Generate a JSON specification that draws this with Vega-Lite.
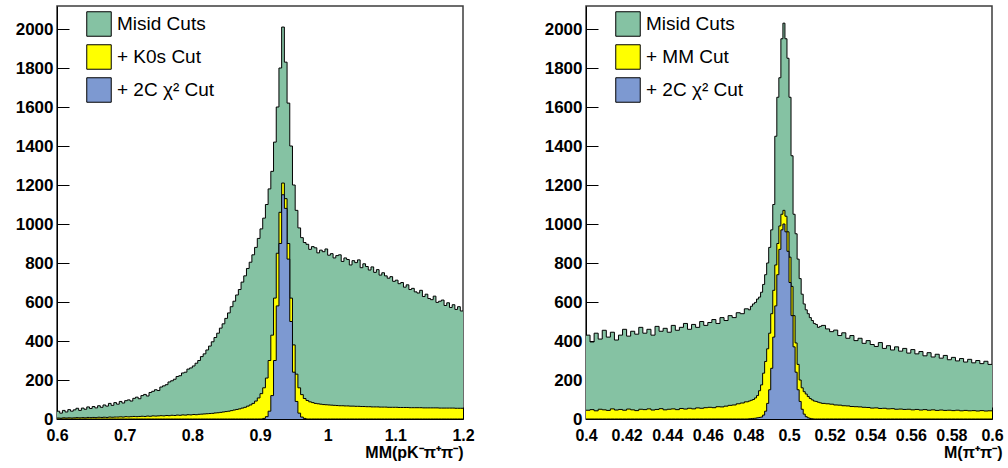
{
"$schema": "https://vega.github.io/schema/vega-lite/v6.json",
"padding": {"left": 14, "top": 5, "right": 5, "bottom": 5},
"background": "white",
"bounds": "flush",
"spacing": 123,
"resolve": {"scale": {"color": "independent", "x": "independent", "y": "independent"}, "legend": {"color": "independent"}},
"config": {
  "view": {"stroke": "#3c3c3c", "strokeWidth": 1.5},
  "font": "Liberation Sans",
  "axis": {"domainColor": "black", "domainWidth": 1, "tickColor": "black", "tickWidth": 1, "labelFont": "Liberation Sans", "labelFontWeight": "bold", "labelFontSize": 17, "labelColor": "black", "titleFont": "Liberation Sans", "titleFontWeight": "bold", "titleFontSize": 16, "titleColor": "black", "grid": false, "zindex": 1, "labelOverlap": false, "labelFlush": false, "labelBound": false},
  "axisX": {"labelFontSize": 16},
  "legend": {"symbolType": "square", "symbolSize": 600, "symbolStrokeColor": "black", "symbolStrokeWidth": 1, "symbolOpacity": 1, "labelFont": "Liberation Sans", "labelFontSize": 19, "labelColor": "black", "labelOffset": 5, "rowPadding": 3, "padding": 0, "orient": "none", "legendX": 29, "legendY": 5}
},
"datasets": {
"L": [
{"x":0.600,"g":40,"k":5,"c":0},{"x":0.604,"g":30,"k":4,"c":0},{"x":0.608,"g":44,"k":6,"c":0},{"x":0.612,"g":36,"k":5,"c":0},{"x":0.616,"g":48,"k":6,"c":0},{"x":0.620,"g":40,"k":5,"c":0},{"x":0.624,"g":47,"k":6,"c":0},{"x":0.628,"g":55,"k":7,"c":0},{"x":0.632,"g":44,"k":6,"c":0},{"x":0.636,"g":56,"k":7,"c":0},
{"x":0.640,"g":50,"k":6,"c":0},{"x":0.644,"g":62,"k":8,"c":0},{"x":0.648,"g":54,"k":7,"c":0},{"x":0.652,"g":64,"k":8,"c":0},{"x":0.656,"g":57,"k":7,"c":0},{"x":0.660,"g":68,"k":9,"c":0},{"x":0.664,"g":60,"k":8,"c":0},{"x":0.668,"g":72,"k":9,"c":0},{"x":0.672,"g":66,"k":8,"c":0},{"x":0.676,"g":80,"k":10,"c":0},
{"x":0.680,"g":70,"k":9,"c":0},{"x":0.684,"g":84,"k":10,"c":0},{"x":0.688,"g":76,"k":10,"c":0},{"x":0.692,"g":90,"k":11,"c":0},{"x":0.696,"g":82,"k":10,"c":0},{"x":0.700,"g":94,"k":12,"c":0},{"x":0.704,"g":98,"k":11,"c":0},{"x":0.708,"g":92,"k":12,"c":0},{"x":0.712,"g":106,"k":13,"c":0},{"x":0.716,"g":112,"k":12,"c":0},
{"x":0.720,"g":104,"k":13,"c":0},{"x":0.724,"g":120,"k":14,"c":0},{"x":0.728,"g":126,"k":13,"c":0},{"x":0.732,"g":118,"k":15,"c":0},{"x":0.736,"g":136,"k":14,"c":0},{"x":0.740,"g":142,"k":16,"c":0},{"x":0.744,"g":150,"k":15,"c":0},{"x":0.748,"g":146,"k":16,"c":0},{"x":0.752,"g":164,"k":17,"c":0},{"x":0.756,"g":170,"k":16,"c":0},
{"x":0.760,"g":176,"k":18,"c":0},{"x":0.764,"g":190,"k":17,"c":0},{"x":0.768,"g":196,"k":19,"c":0},{"x":0.772,"g":204,"k":18,"c":0},{"x":0.776,"g":218,"k":20,"c":0},{"x":0.780,"g":222,"k":19,"c":0},{"x":0.784,"g":236,"k":21,"c":0},{"x":0.788,"g":240,"k":20,"c":0},{"x":0.792,"g":256,"k":22,"c":0},{"x":0.796,"g":262,"k":21,"c":0},
{"x":0.800,"g":272,"k":23,"c":0},{"x":0.804,"g":286,"k":22,"c":0},{"x":0.808,"g":300,"k":24,"c":0},{"x":0.812,"g":320,"k":25,"c":0},{"x":0.816,"g":334,"k":26,"c":0},{"x":0.820,"g":354,"k":27,"c":0},{"x":0.824,"g":374,"k":28,"c":0},{"x":0.828,"g":396,"k":29,"c":0},{"x":0.832,"g":418,"k":31,"c":0},{"x":0.836,"g":440,"k":32,"c":0},
{"x":0.840,"g":466,"k":34,"c":0},{"x":0.844,"g":488,"k":36,"c":0},{"x":0.848,"g":516,"k":38,"c":0},{"x":0.852,"g":544,"k":40,"c":0},{"x":0.856,"g":576,"k":43,"c":0},{"x":0.860,"g":604,"k":46,"c":0},{"x":0.864,"g":636,"k":49,"c":0},{"x":0.868,"g":664,"k":52,"c":0},{"x":0.872,"g":702,"k":56,"c":0},{"x":0.876,"g":734,"k":60,"c":0},
{"x":0.880,"g":772,"k":66,"c":0},{"x":0.884,"g":804,"k":72,"c":0},{"x":0.888,"g":842,"k":80,"c":0},{"x":0.892,"g":880,"k":92,"c":0},{"x":0.896,"g":926,"k":108,"c":0},{"x":0.900,"g":975,"k":130,"c":0},{"x":0.904,"g":1030,"k":160,"c":3},{"x":0.908,"g":1100,"k":210,"c":12},{"x":0.912,"g":1180,"k":300,"c":40},{"x":0.916,"g":1270,"k":430,"c":120},
{"x":0.920,"g":1420,"k":620,"c":300},{"x":0.924,"g":1600,"k":850,"c":580},{"x":0.928,"g":1800,"k":1060,"c":900},{"x":0.932,"g":2010,"k":1210,"c":1150},{"x":0.936,"g":1830,"k":1130,"c":1080},{"x":0.940,"g":1620,"k":900,"c":820},{"x":0.944,"g":1400,"k":620,"c":500},{"x":0.948,"g":1200,"k":380,"c":240},{"x":0.952,"g":1070,"k":230,"c":90},{"x":0.956,"g":980,"k":160,"c":30},
{"x":0.960,"g":930,"k":125,"c":10},{"x":0.964,"g":905,"k":105,"c":3},{"x":0.968,"g":896,"k":95,"c":0},{"x":0.972,"g":870,"k":88,"c":0},{"x":0.976,"g":884,"k":84,"c":0},{"x":0.980,"g":878,"k":80,"c":0},{"x":0.984,"g":852,"k":78,"c":0},{"x":0.988,"g":866,"k":76,"c":0},{"x":0.992,"g":858,"k":74,"c":0},{"x":0.996,"g":872,"k":73,"c":0},
{"x":1.000,"g":840,"k":72,"c":0},{"x":1.004,"g":848,"k":71,"c":0},{"x":1.008,"g":826,"k":70,"c":0},{"x":1.012,"g":838,"k":69,"c":0},{"x":1.016,"g":842,"k":68,"c":0},{"x":1.020,"g":808,"k":68,"c":0},{"x":1.024,"g":826,"k":67,"c":0},{"x":1.028,"g":818,"k":67,"c":0},{"x":1.032,"g":790,"k":66,"c":0},{"x":1.036,"g":812,"k":66,"c":0},
{"x":1.040,"g":802,"k":65,"c":0},{"x":1.044,"g":816,"k":65,"c":0},{"x":1.048,"g":776,"k":64,"c":0},{"x":1.052,"g":796,"k":64,"c":0},{"x":1.056,"g":782,"k":63,"c":0},{"x":1.060,"g":764,"k":63,"c":0},{"x":1.064,"g":780,"k":62,"c":0},{"x":1.068,"g":752,"k":62,"c":0},{"x":1.072,"g":766,"k":62,"c":0},{"x":1.076,"g":738,"k":61,"c":0},
{"x":1.080,"g":750,"k":61,"c":0},{"x":1.084,"g":734,"k":61,"c":0},{"x":1.088,"g":722,"k":60,"c":0},{"x":1.092,"g":730,"k":60,"c":0},{"x":1.096,"g":706,"k":60,"c":0},{"x":1.100,"g":712,"k":60,"c":0},{"x":1.104,"g":694,"k":59,"c":0},{"x":1.108,"g":700,"k":59,"c":0},{"x":1.112,"g":676,"k":59,"c":0},{"x":1.116,"g":688,"k":59,"c":0},
{"x":1.120,"g":664,"k":58,"c":0},{"x":1.124,"g":670,"k":58,"c":0},{"x":1.128,"g":652,"k":58,"c":0},{"x":1.132,"g":646,"k":58,"c":0},{"x":1.136,"g":660,"k":58,"c":0},{"x":1.140,"g":628,"k":57,"c":0},{"x":1.144,"g":640,"k":57,"c":0},{"x":1.148,"g":618,"k":57,"c":0},{"x":1.152,"g":612,"k":57,"c":0},{"x":1.156,"g":630,"k":57,"c":0},
{"x":1.160,"g":598,"k":57,"c":0},{"x":1.164,"g":604,"k":56,"c":0},{"x":1.168,"g":610,"k":56,"c":0},{"x":1.172,"g":582,"k":56,"c":0},{"x":1.176,"g":596,"k":56,"c":0},{"x":1.180,"g":572,"k":56,"c":0},{"x":1.184,"g":586,"k":56,"c":0},{"x":1.188,"g":562,"k":55,"c":0},{"x":1.192,"g":576,"k":55,"c":0},{"x":1.196,"g":554,"k":55,"c":0},
{"x":1.200,"g":554,"k":55,"c":0}
],
"R": [
{"x":0.400,"g":430,"k":45,"c":0},{"x":0.402,"g":395,"k":48,"c":0},{"x":0.404,"g":440,"k":42,"c":0},{"x":0.406,"g":410,"k":50,"c":0},{"x":0.408,"g":455,"k":47,"c":0},{"x":0.410,"g":420,"k":44,"c":0},{"x":0.412,"g":445,"k":52,"c":0},{"x":0.414,"g":405,"k":46,"c":0},{"x":0.416,"g":430,"k":49,"c":0},{"x":0.418,"g":460,"k":45,"c":0},
{"x":0.420,"g":425,"k":51,"c":0},{"x":0.422,"g":450,"k":47,"c":0},{"x":0.424,"g":435,"k":43,"c":0},{"x":0.426,"g":470,"k":50,"c":0},{"x":0.428,"g":440,"k":48,"c":0},{"x":0.430,"g":460,"k":52,"c":0},{"x":0.432,"g":430,"k":46,"c":0},{"x":0.434,"g":475,"k":49,"c":0},{"x":0.436,"g":450,"k":53,"c":0},{"x":0.438,"g":465,"k":47,"c":0},
{"x":0.440,"g":445,"k":50,"c":0},{"x":0.442,"g":480,"k":52,"c":0},{"x":0.444,"g":455,"k":48,"c":0},{"x":0.446,"g":470,"k":54,"c":0},{"x":0.448,"g":490,"k":51,"c":0},{"x":0.450,"g":460,"k":55,"c":0},{"x":0.452,"g":485,"k":52,"c":0},{"x":0.454,"g":470,"k":57,"c":0},{"x":0.456,"g":500,"k":55,"c":0},{"x":0.458,"g":480,"k":58,"c":0},
{"x":0.460,"g":495,"k":60,"c":0},{"x":0.462,"g":510,"k":58,"c":0},{"x":0.464,"g":490,"k":63,"c":0},{"x":0.466,"g":520,"k":62,"c":0},{"x":0.468,"g":505,"k":66,"c":0},{"x":0.470,"g":530,"k":70,"c":0},{"x":0.472,"g":520,"k":72,"c":0},{"x":0.474,"g":545,"k":78,"c":0},{"x":0.476,"g":540,"k":82,"c":0},{"x":0.478,"g":565,"k":88,"c":0},
{"x":0.480,"g":560,"k":92,"c":1},{"x":0.481,"g":578,"k":96,"c":2},{"x":0.482,"g":590,"k":100,"c":3},{"x":0.483,"g":598,"k":108,"c":4},{"x":0.484,"g":615,"k":120,"c":6},{"x":0.485,"g":625,"k":145,"c":8},{"x":0.486,"g":650,"k":175,"c":10},{"x":0.487,"g":690,"k":235,"c":20},{"x":0.488,"g":740,"k":295,"c":40},{"x":0.489,"g":800,"k":360,"c":80},
{"x":0.490,"g":880,"k":440,"c":150},{"x":0.491,"g":970,"k":540,"c":260},{"x":0.492,"g":1100,"k":660,"c":420},{"x":0.493,"g":1450,"k":790,"c":580},{"x":0.494,"g":1650,"k":900,"c":740},{"x":0.495,"g":1750,"k":990,"c":870},{"x":0.496,"g":1950,"k":1050,"c":970},{"x":0.497,"g":2030,"k":1070,"c":1000},{"x":0.498,"g":1950,"k":1040,"c":960},{"x":0.499,"g":1850,"k":960,"c":860},
{"x":0.500,"g":1650,"k":830,"c":700},{"x":0.501,"g":1350,"k":680,"c":530},{"x":0.502,"g":1050,"k":530,"c":370},{"x":0.503,"g":950,"k":390,"c":240},{"x":0.504,"g":820,"k":280,"c":150},{"x":0.505,"g":720,"k":200,"c":90},{"x":0.506,"g":640,"k":160,"c":50},{"x":0.507,"g":590,"k":140,"c":25},{"x":0.508,"g":560,"k":128,"c":12},{"x":0.509,"g":540,"k":115,"c":6},
{"x":0.510,"g":520,"k":105,"c":3},{"x":0.511,"g":505,"k":98,"c":1},{"x":0.512,"g":490,"k":92,"c":0},{"x":0.513,"g":485,"k":90,"c":0},{"x":0.514,"g":470,"k":86,"c":0},{"x":0.515,"g":475,"k":83,"c":0},
{"x":0.516,"g":480,"k":80,"c":0},{"x":0.518,"g":462,"k":78,"c":0},{"x":0.520,"g":448,"k":76,"c":0},{"x":0.522,"g":456,"k":72,"c":0},{"x":0.524,"g":428,"k":71,"c":0},{"x":0.526,"g":442,"k":68,"c":0},{"x":0.528,"g":414,"k":67,"c":0},{"x":0.530,"g":428,"k":64,"c":0},{"x":0.532,"g":402,"k":63,"c":0},{"x":0.534,"g":414,"k":62,"c":0},
{"x":0.536,"g":388,"k":60,"c":0},{"x":0.538,"g":402,"k":59,"c":0},{"x":0.540,"g":382,"k":56,"c":0},{"x":0.542,"g":372,"k":57,"c":0},{"x":0.544,"g":392,"k":54,"c":0},{"x":0.546,"g":362,"k":55,"c":0},{"x":0.548,"g":376,"k":52,"c":0},{"x":0.550,"g":354,"k":53,"c":0},{"x":0.552,"g":370,"k":50,"c":0},{"x":0.554,"g":348,"k":51,"c":0},
{"x":0.556,"g":362,"k":49,"c":0},{"x":0.558,"g":338,"k":50,"c":0},{"x":0.560,"g":356,"k":47,"c":0},{"x":0.562,"g":334,"k":49,"c":0},{"x":0.564,"g":346,"k":46,"c":0},{"x":0.566,"g":324,"k":48,"c":0},{"x":0.568,"g":340,"k":45,"c":0},{"x":0.570,"g":318,"k":47,"c":0},{"x":0.572,"g":332,"k":44,"c":0},{"x":0.574,"g":312,"k":46,"c":0},
{"x":0.576,"g":326,"k":44,"c":0},{"x":0.578,"g":304,"k":45,"c":0},{"x":0.580,"g":316,"k":43,"c":0},{"x":0.582,"g":298,"k":45,"c":0},{"x":0.584,"g":310,"k":42,"c":0},{"x":0.586,"g":292,"k":44,"c":0},{"x":0.588,"g":306,"k":42,"c":0},{"x":0.590,"g":288,"k":43,"c":0},{"x":0.592,"g":300,"k":41,"c":0},{"x":0.594,"g":284,"k":43,"c":0},
{"x":0.596,"g":296,"k":41,"c":0},{"x":0.598,"g":280,"k":42,"c":0},{"x":0.600,"g":280,"k":42,"c":0}
]
},
"hconcat": [
{
  "width": 406, "height": 413,
  "data": {"name": "L"},
  "layer": [
    {"mark": {"type": "area", "interpolate": "step-after"},
     "encoding": {
       "x": {"field": "x", "type": "quantitative", "scale": {"domain": [0.6, 1.2], "nice": false, "zero": false},
             "axis": {"values": [0.6,0.7,0.8,0.9,1.0,1.1,1.2],
                      "format": ".1~f", "labelOverlap": false, "tickSize": -12,
                      "labelPadding": 20, "title": "MM(pK\u207b\u03c0\u207a\u03c0\u207b)", "titleAnchor": "end", "titlePadding": 1}},
       "y": {"field": "g", "type": "quantitative", "scale": {"domain": [0, 2118], "nice": false},
             "axis": {"values": [0,50,100,150,200,250,300,350,400,450,500,550,600,650,700,750,800,850,900,950,1000,1050,1100,1150,1200,1250,1300,1350,1400,1450,1500,1550,1600,1650,1700,1750,1800,1850,1900,1950,2000,2050,2100],
                      "format": "d", "labelOverlap": false,
                      "labelExpr": "datum.value % 200 === 0 ? datum.label : ''",
                      "tickSize": {"condition": {"test": "datum.value % 200 === 0", "value": -12}, "value": -6},
                      "labelPadding": 16, "title": null}},
       "color": {"datum": "Misid Cuts", "scale": {"domain": ["Misid Cuts", "\u00a0+ K0s Cut", "\u00a0+ 2C \u03c7\u00b2 Cut"], "range": ["#85c2a3", "#ffff00", "#7d99d1"]}, "legend": {"title": null}}
     }},
    {"mark": {"type": "line", "interpolate": "step-after", "color": "black", "strokeWidth": 1},
     "encoding": {"x": {"field": "x", "type": "quantitative"}, "y": {"field": "g", "type": "quantitative"}}},
    {"mark": {"type": "area", "interpolate": "step-after"},
     "encoding": {"x": {"field": "x", "type": "quantitative"}, "y": {"field": "k", "type": "quantitative"}, "color": {"datum": "\u00a0+ K0s Cut"}}},
    {"mark": {"type": "line", "interpolate": "step-after", "color": "black", "strokeWidth": 1},
     "encoding": {"x": {"field": "x", "type": "quantitative"}, "y": {"field": "k", "type": "quantitative"}}},
    {"mark": {"type": "area", "interpolate": "step-after"},
     "encoding": {"x": {"field": "x", "type": "quantitative"}, "y": {"field": "c", "type": "quantitative"}, "color": {"datum": "\u00a0+ 2C \u03c7\u00b2 Cut"}}},
    {"mark": {"type": "line", "interpolate": "step-after", "color": "black", "strokeWidth": 1},
     "encoding": {"x": {"field": "x", "type": "quantitative"}, "y": {"field": "c", "type": "quantitative"}}}
  ]
},
{
  "width": 406, "height": 413,
  "data": {"name": "R"},
  "layer": [
    {"mark": {"type": "area", "interpolate": "step-after"},
     "encoding": {
       "x": {"field": "x", "type": "quantitative", "scale": {"domain": [0.4, 0.6], "nice": false, "zero": false},
             "axis": {"values": [0.4,0.41,0.42,0.43,0.44,0.45,0.46,0.47,0.48,0.49,0.5,0.51,0.52,0.53,0.54,0.55,0.56,0.57,0.58,0.59,0.6],
                      "labelOverlap": false,
                      "labelExpr": "abs(datum.value*50 - round(datum.value*50)) < 0.001 ? format(datum.value, '.2~f') : ''",
                      "tickSize": {"condition": {"test": "abs(datum.value*50 - round(datum.value*50)) < 0.001", "value": -12}, "value": -6},
                      "labelPadding": 20, "title": "M(\u03c0\u207a\u03c0\u207b)", "titleAnchor": "end", "titleAlign": "right", "titleX": 416, "titlePadding": 1}},
       "y": {"field": "g", "type": "quantitative", "scale": {"domain": [0, 2118], "nice": false},
             "axis": {"values": [0,50,100,150,200,250,300,350,400,450,500,550,600,650,700,750,800,850,900,950,1000,1050,1100,1150,1200,1250,1300,1350,1400,1450,1500,1550,1600,1650,1700,1750,1800,1850,1900,1950,2000,2050,2100],
                      "format": "d", "labelOverlap": false,
                      "labelExpr": "datum.value % 200 === 0 ? datum.label : ''",
                      "tickSize": {"condition": {"test": "datum.value % 200 === 0", "value": -12}, "value": -6},
                      "labelPadding": 16, "title": null}},
       "color": {"datum": "Misid Cuts", "scale": {"domain": ["Misid Cuts", "\u00a0+ MM Cut", "\u00a0+ 2C \u03c7\u00b2 Cut"], "range": ["#85c2a3", "#ffff00", "#7d99d1"]}, "legend": {"title": null}}
     }},
    {"mark": {"type": "line", "interpolate": "step-after", "color": "black", "strokeWidth": 1},
     "encoding": {"x": {"field": "x", "type": "quantitative"}, "y": {"field": "g", "type": "quantitative"}}},
    {"mark": {"type": "area", "interpolate": "step-after"},
     "encoding": {"x": {"field": "x", "type": "quantitative"}, "y": {"field": "k", "type": "quantitative"}, "color": {"datum": "\u00a0+ MM Cut"}}},
    {"mark": {"type": "line", "interpolate": "step-after", "color": "black", "strokeWidth": 1},
     "encoding": {"x": {"field": "x", "type": "quantitative"}, "y": {"field": "k", "type": "quantitative"}}},
    {"mark": {"type": "area", "interpolate": "step-after"},
     "encoding": {"x": {"field": "x", "type": "quantitative"}, "y": {"field": "c", "type": "quantitative"}, "color": {"datum": "\u00a0+ 2C \u03c7\u00b2 Cut"}}},
    {"mark": {"type": "line", "interpolate": "step-after", "color": "black", "strokeWidth": 1},
     "encoding": {"x": {"field": "x", "type": "quantitative"}, "y": {"field": "c", "type": "quantitative"}}}
  ]
}
]
}
